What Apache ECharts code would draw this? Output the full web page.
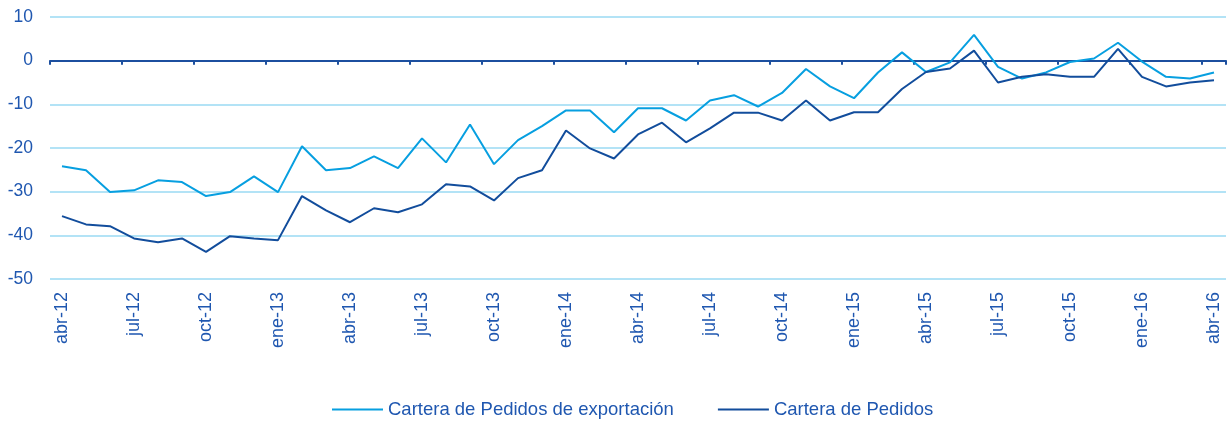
<!DOCTYPE html>
<html>
<head>
<meta charset="utf-8">
<script src="https://cdn.jsdelivr.net/npm/echarts@6/dist/echarts.min.js"></script>
<style>
  html, body { margin: 0; padding: 0; background: #fff; }
  #chart { width: 1227px; height: 423px; }
</style>
</head>
<body>
<div id="chart"></div>
<script>
// meses abr-12 .. abr-16
const months = [
  'abr-12', 'may-12', 'jun-12', 'jul-12', 'ago-12', 'sep-12', 'oct-12', 'nov-12', 'dic-12',
  'ene-13', 'feb-13', 'mar-13', 'abr-13', 'may-13', 'jun-13', 'jul-13', 'ago-13', 'sep-13',
  'oct-13', 'nov-13', 'dic-13', 'ene-14', 'feb-14', 'mar-14', 'abr-14', 'may-14', 'jun-14',
  'jul-14', 'ago-14', 'sep-14', 'oct-14', 'nov-14', 'dic-14', 'ene-15', 'feb-15', 'mar-15',
  'abr-15', 'may-15', 'jun-15', 'jul-15', 'ago-15', 'sep-15', 'oct-15', 'nov-15', 'dic-15',
  'ene-16', 'feb-16', 'mar-16', 'abr-16'
]

const exportOrders = [
  -24.2, -25.1, -30.1, -29.7, -27.4, -27.8, -31.0, -30.1, -26.5, -30.1,
  -19.6, -25.1, -24.6, -21.9, -24.6, -17.8, -23.3, -14.6, -23.7, -18.2,
  -15.0, -11.4, -11.4, -16.4, -10.9, -10.9, -13.7, -9.1, -7.9, -10.5,
  -7.4, -1.9, -5.9, -8.6, -2.7, 1.9, -2.6, -0.4, 5.9, -1.4,
  -4.1, -2.7, -0.3, 0.5, 4.1, -0.2, -3.7, -4.1, -2.7
]

const totalOrders = [
  -35.6, -37.5, -37.9, -40.7, -41.6, -40.7, -43.8, -40.2, -40.7, -41.1,
  -31.0, -34.3, -37.0, -33.8, -34.7, -32.9, -28.3, -28.8, -32.0, -26.9,
  -25.1, -16.0, -20.1, -22.4, -16.9, -14.2, -18.7, -15.5, -11.9, -11.9,
  -13.7, -9.1, -13.7, -11.8, -11.8, -6.5, -2.6, -1.8, 2.3, -5.0,
  -3.7, -3.1, -3.7, -3.7, 2.7, -3.7, -5.9, -5.0, -4.5
]

const seriesNames = ['Cartera de Pedidos de exportación', 'Cartera de Pedidos']

const textColor = '#1f57b0'
const font = 'Liberation Sans, Arial, sans-serif'

const chart = echarts.init(document.getElementById('chart'))
chart.setOption({
  animation: false,
  grid: { left: 50, right: 1, top: 17, bottom: 144 },
  legend: {
    data: seriesNames,
    left: 327,
    top: 395,
    icon: 'rect',
    itemWidth: 51,
    itemHeight: 2,
    itemGap: 44,
    textStyle: { color: textColor, fontSize: 18.5, fontFamily: font }
  },
  xAxis: [
    {
      type: 'category',
      data: months,
      position: 'bottom',
      axisLine: { onZero: true, lineStyle: { color: '#1c4f9f', width: 2 } },
      axisTick: { show: true, interval: 2, length: 4, lineStyle: { color: '#1c4f9f', width: 2 } },
      axisLabel: { show: false },
      splitLine: { show: false }
    },
    {
      type: 'category',
      data: months,
      position: 'bottom',
      axisLine: { show: false, onZero: false },
      axisTick: { show: false },
      axisLabel: {
        interval: 2,
        rotate: 90,
        margin: 13,
        color: textColor,
        fontSize: 18,
        fontFamily: font
      }
    }
  ],
  yAxis: {
    type: 'value',
    min: -50,
    max: 10,
    interval: 10,
    axisLine: { show: false },
    axisTick: { show: false },
    axisLabel: { margin: 17, color: textColor, fontSize: 17.5, fontFamily: font },
    splitLine: { lineStyle: { color: '#b3e3f6', width: 2 } }
  },
  series: [
    {
      name: seriesNames[0],
      type: 'line',
      data: exportOrders,
      symbol: 'none',
      itemStyle: { color: '#079fe0' },
      lineStyle: { color: '#079fe0', width: 2 }
    },
    {
      name: seriesNames[1],
      type: 'line',
      data: totalOrders,
      symbol: 'none',
      itemStyle: { color: '#124d9c' },
      lineStyle: { color: '#124d9c', width: 2 }
    }
  ]
})
</script>
</body>
</html>
